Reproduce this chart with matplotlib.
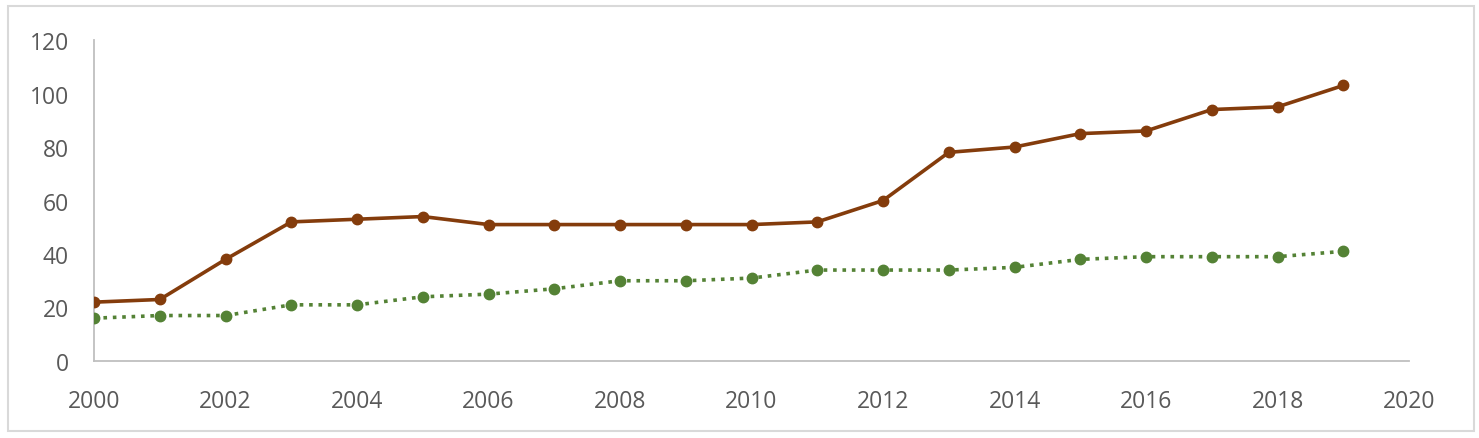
import matplotlib
matplotlib.use("Agg")
import matplotlib.pyplot as plt
from matplotlib.patches import Rectangle

# data
years = list(range(2000, 2020))
series_brown = [22, 23, 38, 52, 53, 54, 51, 51, 51, 51, 51, 52, 60, 78, 80, 85, 86, 94, 95, 103]
series_green = [16, 17, 17, 21, 21, 24, 25, 27, 30, 30, 31, 34, 34, 34, 35, 38, 39, 39, 39, 41]
x_ticks = list(range(2000, 2021, 2))
y_ticks = [0, 20, 40, 60, 80, 100, 120]

BROWN = "#843c0c"
GREEN = "#548235"
TICK_COLOR = "#595959"

plt.rcParams["font.family"] = ["Open Sans", "DejaVu Sans"]

fig = plt.figure(figsize=(14.79, 4.39), dpi=100)
ax = fig.add_axes([0.0636, 0.1754, 0.8891, 0.7312])

ax.plot(years, series_brown, color=BROWN, lw=2.6, marker="o", ms=7.5, zorder=3)
ax.plot(years, series_green, color=GREEN, lw=2.6, ls=(0, (1, 1.6)), marker="o", ms=7.5, zorder=3)

ax.set_xlim(2000, 2020)
ax.set_ylim(0, 120)
ax.set_xticks(x_ticks)
ax.set_yticks(y_ticks)
ax.tick_params(length=0, labelsize=16.5, colors=TICK_COLOR)
ax.tick_params(axis="x", pad=20)
ax.tick_params(axis="y", pad=18)

for side in ("top", "right"):
    ax.spines[side].set_visible(False)
for side in ("left", "bottom"):
    ax.spines[side].set_color("#bfbfbf")
    ax.spines[side].set_linewidth(1.3)

# outer chart-area border
fig.patches.append(Rectangle((8 / 1479, 7 / 439), 1466 / 1479, 425 / 439,
                             transform=fig.transFigure, fill=False,
                             edgecolor="#d9d9d9", lw=1.5))

fig.savefig("out.png", dpi=100)
